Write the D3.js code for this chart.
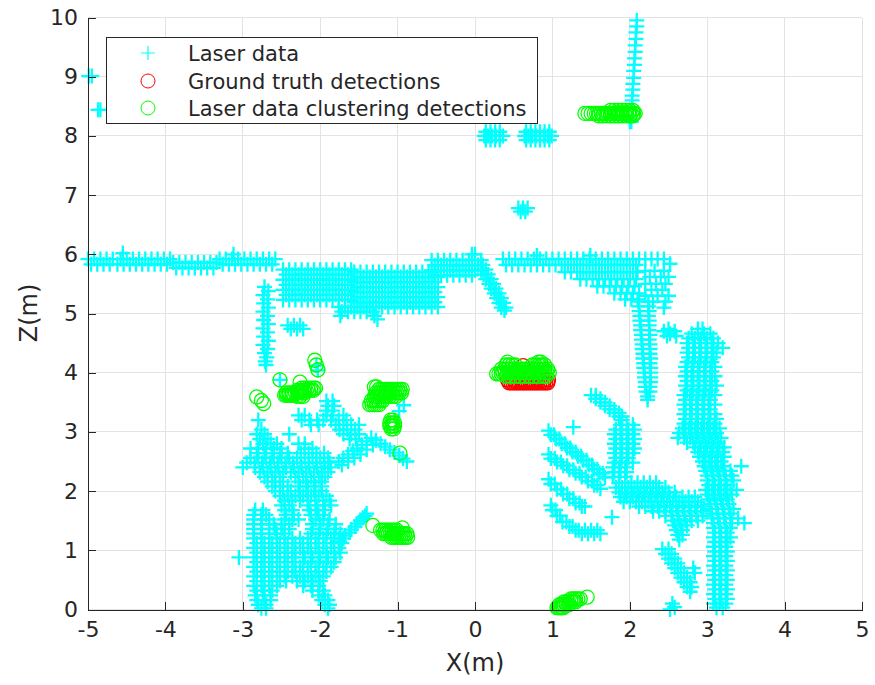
<!DOCTYPE html>
<html>
<head>
<meta charset="utf-8">
<script src="https://cdn.jsdelivr.net/npm/d3@7"></script>
<style>
  html, body { margin: 0; padding: 0; background: #fff; }
  text { font-family: "DejaVu Sans", sans-serif; fill: #262626; }
</style>
</head>
<body>
<svg id="chart" width="875" height="685"></svg>
<script>
// ---- Axis ticks ----
const xTicks = [-5, -4, -3, -2, -1, 0, 1, 2, 3, 4, 5];
const zTicks = [0, 1, 2, 3, 4, 5, 6, 7, 8, 9, 10];

// ---- Laser scan points, stored as scan rows: [z, x1, x2, ...] ----
const laserFar = [
  [9.01, -4.99, -4.95], [8.44, -4.87, -4.84],
  [9.95, 2.09], [9.85, 2.09], [9.75, 2.08], [9.64, 2.08], [9.53, 2.07], [9.42, 2.07],
  [9.31, 2.06], [9.2, 2.06], [9.1, 2.05], [8.98, 2.05], [8.88, 2.04], [8.78, 2.04],
  [8.68, 2.03], [8.6, 2.03], [8.24, 2.02, 2.0],
  [8.07, 0.14, 0.2, 0.26, 0.32, 0.66, 0.72, 0.78, 0.84, 0.9, 0.96],
  [8.0, 0.12, 0.17, 0.22, 0.27, 0.32, 0.36, 0.64, 0.69, 0.74, 0.79, 0.84, 0.89, 0.94, 0.99],
  [7.93, 0.14, 0.2, 0.26, 0.32, 0.66, 0.72, 0.78, 0.84, 0.9, 0.96],
  [6.78, 0.56, 0.62, 0.68], [6.72, 0.59, 0.65]
];

const laserWallLeft = [
  [5.92, -5.0, -4.92, -4.84, -4.76, -4.68, -4.58, -4.5, -4.42, -4.34, -4.26, -4.18, -4.1, -4.02, -3.94,
         -3.3, -3.22, -3.14, -3.06, -2.98, -2.9, -2.82, -2.74, -2.66, -2.58],
  [5.83, -4.96, -4.88, -4.8, -4.72, -4.62, -4.54, -4.46, -4.38, -4.3, -4.22, -4.14, -4.06, -3.98,
         -3.26, -3.18, -3.1, -3.02, -2.94, -2.86, -2.78, -2.7, -2.62],
  [5.86, -3.9, -3.82, -3.74, -3.66, -3.58, -3.5, -3.42, -3.34],
  [5.77, -3.86, -3.78, -3.7, -3.62, -3.54, -3.46, -3.38],
  [6.02, -4.55], [6.0, -3.12],
  [5.74, -2.48, -2.4, -2.32, -2.24, -2.16, -2.08, -2.0, -1.92, -1.84, -1.76, -1.68, -1.6],
  [5.655, -2.44, -2.36, -2.28, -2.2, -2.12, -2.04, -1.96, -1.88, -1.8, -1.72, -1.64],
  [5.57, -2.48, -2.4, -2.32, -2.24, -2.16, -2.08, -2.0, -1.92, -1.84, -1.76, -1.68, -1.6],
  [5.485, -2.44, -2.36, -2.28, -2.2, -2.12, -2.04, -1.96, -1.88, -1.8, -1.72, -1.64],
  [5.4, -2.48, -2.4, -2.32, -2.24, -2.16, -2.08, -2.0, -1.92, -1.84, -1.76, -1.68, -1.6],
  [5.315, -2.44, -2.36, -2.28, -2.2, -2.12, -2.04, -1.96, -1.88, -1.8, -1.72, -1.64],
  [5.23, -2.48, -2.4, -2.32, -2.24, -2.16, -2.08, -2.0, -1.92, -1.84, -1.76, -1.68, -1.6],
  [5.7, -1.56, -1.48, -1.4, -1.32, -1.24, -1.16, -1.08, -1.0, -0.92, -0.84, -0.76, -0.68, -0.6, -0.52],
  [5.615, -1.52, -1.44, -1.36, -1.28, -1.2, -1.12, -1.04, -0.96, -0.88, -0.8, -0.72, -0.64, -0.56, -0.48],
  [5.53, -1.56, -1.48, -1.4, -1.32, -1.24, -1.16, -1.08, -1.0, -0.92, -0.84, -0.76, -0.68, -0.6, -0.52],
  [5.445, -1.52, -1.44, -1.36, -1.28, -1.2, -1.12, -1.04, -0.96, -0.88, -0.8, -0.72, -0.64, -0.56, -0.48],
  [5.36, -1.56, -1.48, -1.4, -1.32, -1.24, -1.16, -1.08, -1.0, -0.92, -0.84, -0.76, -0.68, -0.6, -0.52],
  [5.275, -1.52, -1.44, -1.36, -1.28, -1.2, -1.12, -1.04, -0.96, -0.88, -0.8, -0.72, -0.64, -0.56, -0.48],
  [5.19, -1.56, -1.48, -1.4, -1.32, -1.24, -1.16, -1.08, -1.0, -0.92, -0.84, -0.76, -0.68, -0.6, -0.52],
  [5.11, -1.76, -1.68, -1.6, -1.52, -1.44, -1.36, -1.28, -1.2, -1.12, -1.04, -0.96, -0.88, -0.8, -0.72, -0.64, -0.56, -0.48],
  [5.03, -1.72, -1.64, -1.56, -1.48, -1.4, -1.32], [4.96, -1.74, -1.3], [4.9, -1.26],
  [5.9, -0.56, -0.48, -0.4, -0.32, -0.24, -0.16, -0.08, 0.0, 0.08],
  [5.815, -0.52, -0.44, -0.36, -0.28, -0.2, -0.12, -0.04, 0.04],
  [5.73, -0.56, -0.48, -0.4, -0.32, -0.24, -0.16, -0.08, 0.0, 0.08],
  [5.645, -0.52, -0.44, -0.36, -0.28, -0.2, -0.12, -0.04],
  [6.0, -0.04, 0.0],
  [5.45, -2.72], [5.38, -2.67], [5.31, -2.74], [5.24, -2.68], [5.17, -2.73], [5.1, -2.67],
  [5.03, -2.74], [4.96, -2.68], [4.89, -2.73], [4.82, -2.67], [4.75, -2.74], [4.68, -2.68],
  [4.61, -2.73], [4.54, -2.67], [4.47, -2.74], [4.4, -2.68], [4.33, -2.72], [4.26, -2.69],
  [4.19, -2.71], [4.13, -2.7],
  [4.8, -2.42, -2.34, -2.26], [4.74, -2.38, -2.3, -2.22]
];

const laserWallRight = [
  [5.82, 0.04, 0.1], [5.74, 0.08, 0.14], [5.66, 0.11, 0.17], [5.58, 0.14, 0.21], [5.5, 0.18, 0.24],
  [5.42, 0.21, 0.27], [5.34, 0.25, 0.31], [5.26, 0.28, 0.34], [5.18, 0.31, 0.37], [5.1, 0.34, 0.4],
  [5.05, 0.38],
  [5.92, 0.36, 0.44, 0.52, 0.6, 0.68, 0.76, 0.84, 0.92, 1.0, 1.08, 1.16, 1.24, 1.32, 1.4, 1.48,
         1.56, 1.64, 1.72, 1.8, 1.88, 1.96, 2.04, 2.12, 2.2, 2.28, 2.36, 2.44],
  [5.82, 0.4, 0.48, 0.56, 0.64, 0.72, 0.8, 0.88, 0.96, 1.04, 1.12, 1.2, 1.28, 1.36, 1.44, 1.52,
         1.6, 1.68, 1.76, 1.84, 1.92, 2.0, 2.08],
  [5.98, 0.8, 1.49],
  [5.7, 1.16, 1.24, 1.32, 1.4, 1.48, 1.56, 1.64, 1.72, 1.8, 1.88, 1.96, 2.04, 2.1],
  [5.58, 1.36, 1.44, 1.52, 1.6, 1.68, 1.76, 1.84, 1.92, 2.0, 2.08],
  [5.46, 1.58, 1.66, 1.74, 1.82, 1.9, 1.98, 2.06],
  [5.34, 1.8, 1.88, 1.96, 2.04, 2.12],
  [5.24, 1.94, 2.02, 2.1],
  [5.84, 2.52], [5.72, 2.2, 2.32, 2.44], [5.62, 2.26, 2.4, 2.5], [5.5, 2.2, 2.34, 2.46],
  [5.4, 2.28, 2.42], [5.3, 2.2, 2.36, 2.5], [5.2, 2.3, 2.46], [5.1, 2.44],
  [5.2, 2.11, 2.24], [5.12, 2.12, 2.24], [5.04, 2.12, 2.25], [4.96, 2.13, 2.24], [4.88, 2.13, 2.25],
  [4.8, 2.14, 2.25], [4.72, 2.14, 2.25], [4.64, 2.15, 2.26], [4.56, 2.15, 2.25], [4.48, 2.16, 2.26],
  [4.4, 2.16, 2.26], [4.32, 2.17, 2.26], [4.24, 2.17, 2.27], [4.16, 2.18, 2.26], [4.08, 2.18, 2.27],
  [4.0, 2.19, 2.27], [3.92, 2.19, 2.27], [3.84, 2.2, 2.27], [3.76, 2.2, 2.26], [3.68, 2.21, 2.26],
  [3.6, 2.23], [3.54, 2.23],
  [4.74, 2.5], [4.7, 2.44, 2.58], [4.66, 2.52], [4.62, 2.48, 2.6]
];

const laserRightWall = [
  [4.74, 2.88, 2.94], [4.66, 2.8, 2.88, 2.96, 3.04], [4.58, 2.76, 2.84, 2.92, 3.0, 3.08],
  [4.5, 2.74, 2.82, 2.9, 2.98, 3.06, 3.14], [4.42, 2.76, 2.84, 2.92, 3.0, 3.08, 3.2],
  [4.34, 2.74, 2.82, 2.9, 2.98, 3.06, 3.12], [4.26, 2.76, 2.84, 2.92, 3.0, 3.08],
  [4.18, 2.74, 2.82, 2.9, 2.98, 3.06], [4.1, 2.72, 2.8, 2.88, 2.96, 3.04, 3.1],
  [4.02, 2.74, 2.82, 2.9, 2.98, 3.06], [3.94, 2.72, 2.8, 2.88, 2.96, 3.04, 3.1],
  [3.86, 2.74, 2.82, 2.9, 2.98, 3.06], [3.78, 2.72, 2.8, 2.88, 2.96, 3.04, 3.12],
  [3.7, 2.74, 2.82, 2.9, 2.98, 3.06], [3.62, 2.7, 2.78, 2.86, 2.94, 3.02, 3.1],
  [3.54, 2.72, 2.8, 2.88, 2.96, 3.04], [3.46, 2.7, 2.78, 2.86, 2.94, 3.02, 3.1],
  [3.38, 2.72, 2.8, 2.88, 2.96, 3.04], [3.3, 2.7, 2.78, 2.86, 2.94, 3.02, 3.1],
  [3.22, 2.72, 2.8, 2.88, 2.96, 3.04, 3.12], [3.14, 2.7, 2.78, 2.86, 2.94, 3.02, 3.1],
  [3.06, 2.68, 2.76, 2.84, 2.92, 3.0, 3.08, 3.16], [2.98, 2.64, 2.72, 2.8, 2.88, 2.96, 3.04, 3.12],
  [2.9, 2.62, 2.7, 2.78, 2.86, 2.94, 3.02, 3.1, 3.18], [2.82, 2.74, 2.82, 2.9, 2.98, 3.06, 3.14],
  [2.74, 2.84, 2.92, 3.0, 3.08, 3.16, 3.22], [2.66, 2.88, 2.96, 3.04, 3.12, 3.2],
  [2.58, 2.9, 2.98, 3.06, 3.14, 3.22], [2.5, 2.94, 3.02, 3.1, 3.18],
  [2.42, 2.96, 3.04, 3.12, 3.2, 3.44], [2.34, 2.98, 3.06, 3.14, 3.22, 3.3],
  [2.26, 3.0, 3.08, 3.16, 3.24, 3.32], [2.18, 3.0, 3.08, 3.16, 3.24, 3.34],
  [2.1, 3.02, 3.1, 3.18, 3.26], [2.02, 2.98, 3.06, 3.14, 3.22, 3.3, 3.38],
  [1.94, 3.0, 3.08, 3.16, 3.24, 3.32], [1.86, 3.02, 3.1, 3.18, 3.26],
  [1.78, 3.04, 3.12, 3.2, 3.28], [1.7, 3.04, 3.12, 3.2, 3.28, 3.34],
  [1.62, 3.06, 3.14, 3.22, 3.3], [1.54, 3.06, 3.14, 3.22, 3.3, 3.4],
  [1.46, 3.08, 3.16, 3.24, 3.32, 3.48], [1.38, 3.08, 3.16, 3.24, 3.3],
  [1.3, 3.1, 3.18, 3.26], [1.22, 3.08, 3.16, 3.24, 3.3], [1.14, 3.1, 3.18, 3.26],
  [1.06, 3.08, 3.16, 3.24], [0.98, 3.1, 3.18, 3.26], [0.9, 3.08, 3.16, 3.24],
  [0.82, 3.1, 3.18, 3.26], [0.74, 3.08, 3.16, 3.24], [0.66, 3.1, 3.18, 3.26],
  [0.58, 3.08, 3.16, 3.24], [0.5, 3.1, 3.18, 3.26], [0.42, 3.08, 3.16, 3.24],
  [0.34, 3.1, 3.18, 3.26], [0.26, 3.08, 3.16, 3.24], [0.18, 3.1, 3.18, 3.26],
  [0.1, 3.08, 3.16, 3.24], [0.03, 3.12, 3.2],
  [1.02, 2.42, 2.5], [0.94, 2.46, 2.54], [0.86, 2.5, 2.58], [0.78, 2.54, 2.62],
  [0.7, 2.58, 2.66, 2.82], [0.62, 2.62, 2.7, 2.84], [0.54, 2.66, 2.74], [0.46, 2.7, 2.78],
  [0.38, 2.74, 2.8], [0.3, 2.78],
  [0.1, 2.55], [0.04, 2.58], [0.0, 2.52]
];

const laserRightMid = [
  [3.62, 1.5, 1.56], [3.56, 1.56, 1.62], [3.5, 1.62, 1.68], [3.44, 1.68, 1.74], [3.38, 1.74, 1.8],
  [3.32, 1.8, 1.86], [3.26, 1.86, 1.9], [3.2, 1.9], [3.08, 1.27],
  [3.12, 1.88, 1.96, 2.04], [3.04, 1.82, 1.9, 1.98, 2.06], [2.96, 1.8, 1.88, 1.96, 2.04],
  [2.88, 1.82, 1.9, 1.98, 2.06], [2.8, 1.8, 1.88, 1.96, 2.04], [2.72, 1.82, 1.9, 1.98, 2.06],
  [2.64, 1.8, 1.88, 1.96, 2.04], [2.56, 1.82, 1.9, 1.98], [2.48, 1.8, 1.88, 1.96, 2.04],
  [2.4, 1.78, 1.86, 1.94], [2.32, 1.8, 1.88, 1.96], [2.24, 1.78, 1.86, 1.94],
  [3.02, 0.95], [2.95, 1.02, 0.98], [2.88, 1.09, 1.05], [2.8, 1.16, 1.12], [2.73, 1.23, 1.19],
  [2.66, 1.3, 1.26], [2.59, 1.37, 1.33], [2.52, 1.44, 1.4], [2.44, 1.51, 1.47], [2.37, 1.58, 1.54],
  [2.3, 1.65, 1.61], [2.23, 1.68],
  [2.62, 0.95], [2.55, 1.03, 0.98], [2.49, 1.11, 1.06], [2.43, 1.19, 1.14], [2.36, 1.27, 1.22],
  [2.3, 1.35, 1.3], [2.24, 1.43, 1.38], [2.17, 1.51, 1.46], [2.1, 1.58, 1.54], [2.04, 1.62],
  [2.2, 0.95], [2.12, 1.03, 0.98], [2.03, 1.11, 1.06], [1.95, 1.19, 1.14], [1.87, 1.27, 1.22],
  [1.8, 1.35, 1.3], [1.74, 1.42, 1.38],
  [1.76, 0.98], [1.68, 1.04, 1.0], [1.58, 1.1, 1.06], [1.48, 1.18, 1.13], [1.4, 1.26, 1.22],
  [1.34, 1.34, 1.3, 1.42, 1.5, 1.58], [1.28, 1.38, 1.46, 1.54, 1.62], [1.56, 1.77],
  [2.14, 1.86, 1.94, 2.02, 2.1, 2.18, 2.26, 2.34],
  [2.06, 1.82, 1.9, 1.98, 2.06, 2.14, 2.22, 2.3, 2.38, 2.46],
  [1.98, 1.86, 1.94, 2.02, 2.1, 2.18, 2.26, 2.34, 2.42, 2.5, 2.58],
  [1.9, 1.88, 1.96, 2.04, 2.12, 2.2, 2.28, 2.36, 2.44, 2.52, 2.6, 2.68, 2.76, 2.84],
  [1.82, 1.92, 2.0, 2.08, 2.16, 2.24, 2.32, 2.4, 2.48, 2.56, 2.64, 2.72, 2.8, 2.88],
  [1.74, 2.12, 2.2, 2.28, 2.36, 2.44, 2.52, 2.6, 2.68, 2.76, 2.84, 2.92],
  [1.66, 2.3, 2.38, 2.46, 2.54, 2.62, 2.7, 2.78, 2.86, 2.94],
  [1.58, 2.46, 2.54, 2.62, 2.7, 2.78, 2.86, 2.94],
  [1.5, 2.56, 2.64, 2.72, 2.8, 2.88],
  [1.42, 2.58, 2.66, 2.74], [1.34, 2.6, 2.68], [1.26, 2.62, 2.68], [1.18, 2.64]
];

const laserLeftLow = [
  [3.52, -1.92, -1.84], [3.44, -1.9, -1.82], [3.36, -1.92, -1.84],
  [3.28, -2.28, -2.2, -1.92, -1.84, -1.7],
  [3.2, -2.8, -2.24, -2.14, -2.04, -1.96, -1.86, -1.76, -1.66],
  [3.12, -2.12, -2.02, -1.8, -1.7, -1.6, -1.5],
  [3.04, -2.76, -1.75, -1.65, -1.55],
  [2.96, -2.82, -2.72, -2.4, -1.7, -1.6, -1.5],
  [2.88, -2.78, -2.68, -1.62, -1.54],
  [2.8, -2.74, -2.64, -2.56, -2.28, -2.2],
  [2.72, -2.9, -2.8, -2.7, -2.6, -2.5, -2.2, -2.1],
  [2.64, -2.82, -2.72, -2.62, -2.52, -2.42, -2.25, -2.15, -2.05, -1.95],
  [2.56, -2.9, -2.8, -2.7, -2.6, -2.5, -2.4, -2.3, -2.2, -2.1, -2.0, -1.9],
  [2.48, -2.95, -2.85, -2.75, -2.65, -2.55, -2.45, -2.35, -2.25, -2.15, -2.05, -1.95, -1.88],
  [2.4, -3.0, -2.84, -2.74, -2.64, -2.54, -2.44, -2.34, -2.24, -2.14, -2.04, -1.94, -1.86],
  [2.32, -2.78, -2.68, -2.58, -2.48, -2.38, -2.28, -2.18, -2.08, -1.98, -1.9],
  [2.24, -2.72, -2.62, -2.52, -2.32, -2.22, -2.12, -2.02, -1.94],
  [2.16, -2.68, -2.58, -2.48, -2.28, -2.18, -2.08, -1.98],
  [2.08, -2.62, -2.52, -2.42, -2.26, -2.16, -2.06, -1.98],
  [2.0, -2.58, -2.48, -2.38, -2.28, -2.18, -2.08, -1.98],
  [1.92, -2.52, -2.42, -2.32, -2.22, -2.12, -2.02, -1.92],
  [1.84, -2.46, -2.36, -2.26, -2.16, -2.06, -1.96, -1.88],
  [1.76, -2.5, -2.4, -2.16, -2.06, -1.96, -1.86],
  [1.68, -2.84, -2.74, -2.46, -2.36, -2.14, -2.04, -1.94],
  [1.6, -2.86, -2.76, -2.7, -2.44, -2.34, -2.12, -2.02, -1.96],
  [1.52, -2.86, -2.76, -2.66, -2.46, -2.36, -2.28, -2.06, -1.96, -1.88],
  [1.44, -2.86, -2.76, -2.66, -2.6, -2.5, -2.4, -2.1, -2.0, -1.9, -1.8],
  [1.36, -2.86, -2.76, -2.66, -2.58, -2.5, -2.4, -2.1, -2.0, -1.9, -1.8],
  [1.28, -2.86, -2.76, -2.66, -2.56, -2.46, -2.12, -2.02, -1.92, -1.82, -1.74],
  [1.2, -2.86, -2.76, -2.66, -2.56, -2.46, -2.36, -2.26, -2.16, -2.06, -1.96, -1.86, -1.76],
  [1.12, -2.82, -2.72, -2.62, -2.52, -2.42, -2.32, -2.22, -2.12, -2.02, -1.92, -1.82, -1.72],
  [1.04, -2.86, -2.76, -2.66, -2.56, -2.46, -2.36, -2.26, -2.16, -2.06, -1.96, -1.86, -1.76],
  [0.96, -2.82, -2.72, -2.62, -2.52, -2.42, -2.32, -2.22, -2.12, -2.02, -1.92, -1.82, -1.74],
  [0.88, -3.05, -2.86, -2.76, -2.66, -2.56, -2.46, -2.36, -2.2, -2.1, -2.0, -1.9, -1.8],
  [0.8, -2.82, -2.72, -2.62, -2.52, -2.42, -2.32, -2.22, -2.12, -2.02, -1.92, -1.82],
  [0.72, -2.86, -2.76, -2.66, -2.56, -2.46, -2.36, -2.26, -2.16, -2.06, -1.96, -1.86],
  [0.64, -2.82, -2.72, -2.62, -2.52, -2.42, -2.32, -2.22, -2.12, -2.02, -1.92],
  [0.56, -2.86, -2.76, -2.66, -2.56, -2.46, -2.36, -2.26, -2.16, -2.06, -1.96],
  [0.48, -2.82, -2.72, -2.62, -2.52, -2.44, -2.3, -2.2, -2.1, -2.0],
  [0.4, -2.86, -2.76, -2.66, -2.56, -2.22, -2.12, -2.02],
  [0.32, -2.82, -2.72, -2.62, -2.1, -2.02, -1.96],
  [0.24, -2.84, -2.74, -2.64, -2.02, -1.94],
  [0.16, -2.82, -2.72, -2.64, -1.98, -1.9],
  [0.08, -2.8, -2.7, -1.94, -1.88],
  [0.02, -2.76, -2.7, -1.9],
  [1.15, -1.75], [1.2, -1.7], [1.25, -1.68], [1.3, -1.62], [1.35, -1.6], [1.4, -1.55],
  [1.45, -1.52], [1.5, -1.48], [1.55, -1.45], [1.58, -1.42], [1.62, -1.4],
  [2.5, -1.76], [2.56, -1.7], [2.62, -1.64], [2.68, -1.58], [2.72, -1.52], [2.78, -1.46],
  [2.84, -1.4], [2.9, -1.34], [2.44, -1.72], [2.5, -1.64], [2.56, -1.56], [2.62, -1.48],
  [2.7, -1.4], [2.78, -1.32], [2.86, -1.28], [2.8, -1.22], [2.75, -1.16], [2.7, -1.1],
  [2.65, -1.04], [2.6, -0.98], [2.55, -0.93], [2.5, -0.88],
  [3.88, -2.52], [4.12, -2.05], [4.04, -2.03], [3.45, -0.92], [3.35, -0.98]
];

// ---- Detections, stored as rows: [z, x1, x2, ...] ----
const groundTruth = [
  [3.83, 0.44, 0.465, 0.49, 0.515, 0.54, 0.565, 0.59, 0.615, 0.64, 0.665, 0.69, 0.715, 0.74,
         0.765, 0.79, 0.815, 0.84, 0.865, 0.89, 0.915, 0.94],
  [3.88, 0.42, 0.5, 0.6, 0.7, 0.8, 0.9, 0.95],
  [4.12, 0.62]
];

const clusterDetections = [
  [8.38, 1.42, 1.46, 1.5, 1.54, 1.57, 1.6, 1.63, 1.66, 1.69, 1.72, 1.75, 1.78, 1.81, 1.84, 1.87,
         1.9, 1.93, 1.96, 1.99, 2.02, 2.05, 2.07],
  [8.34, 1.6, 1.65, 1.7, 1.75, 1.8, 1.85, 1.9, 1.95, 2.0, 2.04],
  [8.43, 1.75, 1.8, 1.85, 1.9, 1.95, 2.0, 2.04],
  [3.98, 0.28, 0.31, 0.34],
  [4.0, 0.36, 0.39, 0.42, 0.45, 0.48, 0.51, 0.54, 0.57, 0.6, 0.63, 0.66, 0.69, 0.72, 0.75, 0.78,
       0.81, 0.84, 0.87, 0.9, 0.93, 0.96],
  [4.06, 0.34, 0.38, 0.42, 0.46, 0.5, 0.54, 0.58, 0.62, 0.66, 0.7, 0.74, 0.78, 0.82, 0.86, 0.9, 0.94],
  [4.13, 0.4, 0.44, 0.48, 0.52, 0.74, 0.78, 0.82, 0.86, 0.9],
  [4.18, 0.42, 0.82, 0.85],
  [3.94, 0.4, 0.46, 0.52, 0.58, 0.64, 0.7, 0.76, 0.82, 0.88, 0.92],
  [3.59, -2.82], [3.53, -2.76], [3.48, -2.73],
  [3.88, -2.52], [3.84, -2.26],
  [3.62, -2.46, -2.44, -2.42, -2.4, -2.38, -2.36, -2.34],
  [3.66, -2.44, -2.4, -2.36, -2.32, -2.28, -2.24, -2.2],
  [3.7, -2.3, -2.27, -2.24, -2.21, -2.18, -2.15, -2.12, -2.09],
  [3.74, -2.24, -2.2, -2.16, -2.12, -2.08, -2.06],
  [3.6, -2.3, -2.26, -2.22],
  [4.21, -2.07], [4.13, -2.05], [4.05, -2.03],
  [3.76, -1.3, -1.27],
  [3.72, -1.24, -1.21, -1.18, -1.15, -1.12, -1.09, -1.06, -1.03, -1.0, -0.97, -0.94],
  [3.66, -1.28, -1.25, -1.22, -1.19, -1.16, -1.13, -1.1, -1.07, -1.04, -1.01, -0.98, -0.95],
  [3.6, -1.3, -1.26, -1.22, -1.18, -1.14, -1.1, -1.06, -1.02],
  [3.53, -1.34, -1.31, -1.28, -1.25, -1.22, -1.19],
  [3.46, -1.36, -1.33, -1.3, -1.27, -1.24],
  [3.2, -1.09, -1.06], [3.15, -1.1, -1.07, -1.04], [3.1, -1.1, -1.07, -1.04], [3.05, -1.08, -1.05],
  [2.64, -0.97],
  [1.42, -1.32], [1.38, -0.94],
  [1.34, -1.22, -1.19, -1.16, -1.13, -1.1, -1.07, -1.04, -1.01],
  [1.28, -1.18, -1.15, -1.12, -1.09, -1.06, -1.03, -1.0, -0.97, -0.94, -0.91, -0.88],
  [1.22, -1.08, -1.05, -1.02, -0.99, -0.96, -0.93, -0.9, -0.87],
  [0.21, 1.45],
  [0.03, 1.06, 1.08, 1.1, 1.12, 1.14],
  [0.08, 1.09, 1.12, 1.15, 1.18, 1.21],
  [0.13, 1.15, 1.18, 1.21, 1.24, 1.27, 1.3],
  [0.18, 1.24, 1.27, 1.3, 1.33, 1.36]
];

const legendLabels = ["Laser data", "Ground truth detections", "Laser data clustering detections"];

// ---- Build ----
const rowsToPoints = rows => rows.flatMap(([z, ...xs]) => xs.map(xv => [xv, z]));
const laserPoints = [laserFar, laserWallLeft, laserWallRight, laserRightWall, laserRightMid, laserLeftLow]
  .flatMap(rowsToPoints);
const truthPoints = rowsToPoints(groundTruth);
const clusterPoints = rowsToPoints(clusterDetections);

const svg = d3.select("#chart");
const x = d3.scaleLinear().domain([-5, 5]).range([88, 862]);
const y = d3.scaleLinear().domain([0, 10]).range([609.5, 17.5]);

const axisColor = "#262626";
const gridColor = "#e3e3e3";

// grid
const grid = svg.append("g").attr("shape-rendering", "crispEdges");
grid.selectAll("line.gx").data(xTicks).join("line")
  .attr("x1", d => x(d)).attr("x2", d => x(d))
  .attr("y1", y(0)).attr("y2", y(10))
  .attr("stroke", gridColor).attr("stroke-width", 1);
grid.selectAll("line.gy").data(zTicks).join("line")
  .attr("x1", x(-5)).attr("x2", x(5))
  .attr("y1", d => y(d)).attr("y2", d => y(d))
  .attr("stroke", gridColor).attr("stroke-width", 1);

// data marks
const plusPath = "M-7.5,0H7.5M0,-7.5V7.5";
svg.append("g").selectAll("path").data(laserPoints).join("path")
  .attr("d", plusPath)
  .attr("transform", d => `translate(${x(d[0])},${y(d[1])})`)
  .attr("fill", "none").attr("stroke", "#00ffff").attr("stroke-width", 2.3);

svg.append("g").selectAll("circle").data(truthPoints).join("circle")
  .attr("cx", d => x(d[0])).attr("cy", d => y(d[1])).attr("r", 7)
  .attr("fill", "none").attr("stroke", "#ff0000").attr("stroke-width", 1.3);

svg.append("g").selectAll("circle").data(clusterPoints).join("circle")
  .attr("cx", d => x(d[0])).attr("cy", d => y(d[1])).attr("r", 7)
  .attr("fill", "none").attr("stroke", "#00ff00").attr("stroke-width", 1.3);

// axes
const xAxis = d3.axisBottom(x).tickValues(xTicks).tickFormat(d => String(d))
  .tickSize(-8).tickSizeOuter(0).tickPadding(12);
const yAxis = d3.axisLeft(y).tickValues(zTicks).tickFormat(d => String(d))
  .tickSize(-8).tickSizeOuter(0).tickPadding(10);

const gx = svg.append("g").attr("transform", `translate(0,${y(0)})`).call(xAxis);
const gy = svg.append("g").attr("transform", `translate(${x(-5)},0)`).call(yAxis);
[gx, gy].forEach(g => {
  g.select(".domain").attr("stroke", axisColor).attr("shape-rendering", "crispEdges");
  g.selectAll(".tick line").attr("stroke", axisColor).attr("shape-rendering", "crispEdges");
  g.selectAll(".tick text").attr("fill", axisColor)
    .style("font-family", "'DejaVu Sans', sans-serif").style("font-size", "22px");
});

// axis labels
svg.append("text").attr("x", 475).attr("y", 671).attr("text-anchor", "middle")
  .style("font-size", "24px").text("X(m)");
svg.append("text").attr("transform", "translate(37,313) rotate(-90)").attr("text-anchor", "middle")
  .style("font-size", "24px").text("Z(m)");

// legend
const legend = svg.append("g");
legend.append("rect").attr("x", 106.5).attr("y", 37.5).attr("width", 431).attr("height", 86)
  .attr("fill", "#fff").attr("stroke", axisColor).attr("stroke-width", 1);
const rowsY = [53, 81, 108];
legend.append("path").attr("d", "M-7,0H7M0,-7V7").attr("transform", `translate(148,${rowsY[0]})`)
  .attr("fill", "none").attr("stroke", "#00ffff").attr("stroke-width", 1.2);
legend.append("circle").attr("cx", 148).attr("cy", rowsY[1]).attr("r", 7)
  .attr("fill", "none").attr("stroke", "#ff0000").attr("stroke-width", 1);
legend.append("circle").attr("cx", 148).attr("cy", rowsY[2]).attr("r", 7)
  .attr("fill", "none").attr("stroke", "#00ff00").attr("stroke-width", 1);
legend.selectAll("text.lbl").data(legendLabels).join("text")
  .attr("x", 188).attr("y", (d, i) => rowsY[i]).attr("dy", "0.36em")
  .style("font-size", "21px").text(d => d);
</script>
</body>
</html>
